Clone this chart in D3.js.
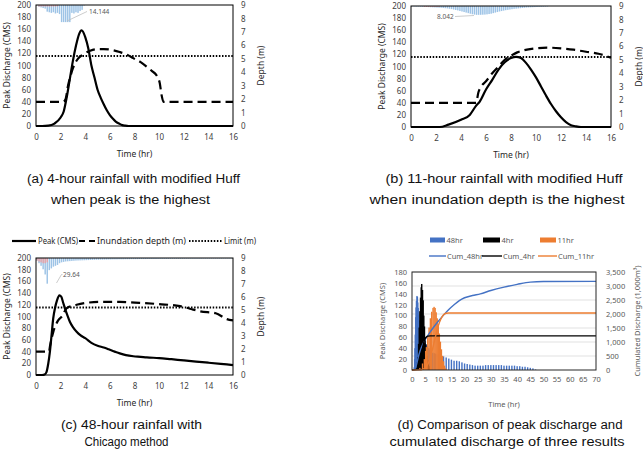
<!DOCTYPE html>
<html>
<head>
<meta charset="utf-8">
<script src="https://cdn.jsdelivr.net/npm/d3@7"></script>
<style>
  body { margin: 0; background: #fff; }
  svg { display: block; }
</style>
</head>
<body>
<svg id="fig" width="643" height="455"></svg>
<script>
// ---- data ----
const hourTicks = [0, 2, 4, 6, 8, 10, 12, 14, 16];
const dischargeTicks = [0, 20, 40, 60, 80, 100, 120, 140, 160, 180, 200];
const depthTicks = [0, 1, 2, 3, 4, 5, 6, 7, 8, 9];
const hourTicksD = [0, 5, 10, 15, 20, 25, 30, 35, 40, 45, 50, 55, 60, 65, 70];
const dischargeTicksD = [0, 20, 40, 60, 80, 100, 120, 140, 160, 180];
const cumTicks = [0, 500, 1000, 1500, 2000, 2500, 3000, 3500];

const limitDepth = 5.2;
const rainStep = 1 / 6; // 10-minute rainfall bars (hr)

// (a) 4-hour rainfall, modified Huff
const peak4hr = [[0,0],[0.5,0],[1,0.5],[1.5,4],[2,14],[2.25,24],[2.5,48],[2.75,78],[3,108],[3.25,133],[3.5,152],[3.7,158],[4,147],[4.25,128],[4.5,100],[4.75,80],[5,60],[5.25,47],[5.5,36],[5.75,26],[6,18],[6.25,12],[6.5,7],[6.75,4],[7,1.5],[7.25,0.5],[7.5,0],[16,0]];
const depth4hr = [[0,1.8],[2.2,1.8],[2.4,2.0],[2.6,3.0],[2.8,3.7],[3.0,4.3],[3.4,5.0],[3.8,5.3],[4.4,5.6],[5.0,5.72],[5.5,5.72],[6.2,5.65],[6.8,5.5],[7.4,5.3],[7.9,5.05],[8.5,4.75],[9.0,4.4],[9.4,4.1],[9.8,3.75],[10.05,3.2],[10.2,2.3],[10.35,1.8],[16,1.8]];
const rain4hr = [0.2,1.5,2.0,2.5,3.0,5.5,6.0,6.5,6.0,7.0,6.5,7.5,14.144,14.144,14.144,14.144,14.144,6.5,7.0,6.0,6.5,5.0,4.0,0.5];
const loss4hr = [0,1.2,1.2,1.2,1.2,1.2,1.2,1.2,1.2,1.2,1.0];

// (b) 11-hour rainfall, modified Huff
const peak11hr = [[0,0],[2,0],[2.3,0],[3,4],[4,12],[4.7,20],[5.2,35],[5.5,42],[6,62],[6.5,78],[7,95],[7.5,107],[8,114],[8.4,116],[8.8,114],[9.2,106],[9.6,95],[10,82],[10.4,67],[10.8,52],[11.2,38],[11.6,26],[12,16],[12.4,8],[12.8,3],[13.2,1],[13.6,0],[16,0]];
const depth11hr = [[0,1.8],[5.2,1.8],[5.4,2.6],[5.6,3.0],[6.0,3.4],[6.5,4.0],[7.0,4.5],[7.5,5.0],[8.0,5.3],[8.5,5.55],[9,5.7],[10,5.85],[11,5.9],[12,5.85],[13,5.75],[14,5.6],[15,5.45],[16,5.15]];
const rain11hr = [0.3,0.4,0.5,0.5,0.6,0.7, 0.8,0.9,1.0,1.1,1.2,1.3, 1.4,1.5,1.6,1.8,2.0,2.2, 2.5,2.8,3.2,3.6,4.0,4.5,
  5.0,5.5,6.0,6.5,7.0,7.5, 7.8,8.042,8.042,8.0,7.9,7.8, 7.6,7.3,7.0,6.5,6.0,5.5, 5.0,4.6,4.2,3.8,3.5,3.2,
  2.9,2.6,2.4,2.2,2.0,1.8, 1.6,1.4,1.3,1.2,1.1,1.0, 0.9,0.8,0.7,0.6,0.5,0.4];
const loss11hr = [0,0,0,0,0,0,0.8,0.8,0.8,0.8,0.8,0.8,0.8,0.8];

// (c) 48-hour rainfall, Chicago method
const peak48hr = [[0,0],[0.5,0],[0.7,1],[0.85,5],[1,20],[1.13,40],[1.25,65],[1.4,97],[1.55,115],[1.7,127],[1.9,136],[2.05,134],[2.2,124],[2.35,114],[2.55,102],[2.75,91],[3,82],[3.3,74],[3.6,68],[4,63],[4.5,55],[5,50],[5.5,47],[5.9,44],[6.4,40],[6.8,37],[7.3,34],[7.9,32],[8.5,31],[9,30],[10,29],[11,27],[12,25],[13,23],[14,21],[15,19],[16,17],[17,17],[18,16],[19,14],[20,12],[21,11],[22,10],[23,9],[24,8],[25,8],[26,8],[27,8],[28,9],[29,9],[30,9],[31,9],[32,9],[33,9],[34,9],[35,8],[36,8],[37,8],[38,8],[39,8],[40,7],[41,7],[42,6],[43,6],[44,5],[45,4],[46,3],[47,1],[48,0]];
const depth48hr = [[0,1.8],[1.05,1.8],[1.15,2.3],[1.4,3.3],[1.8,4.2],[2.1,4.5],[2.5,5.15],[3.3,5.4],[4.1,5.55],[5.2,5.62],[6.8,5.62],[8.4,5.55],[10,5.45],[11.7,5.3],[12.5,5.1],[13.3,4.9],[14.6,4.75],[15.5,4.3],[16,4.2]];
const rain48hr = [3,6,9,13,19,29.64,14,12,10,9,8,6,
  5,4.5,4,3.8,3.6,3.4,3.2,3.0,2.9,2.8,2.7,2.6,
  2.5,2.4,2.3,2.2,2.1,2.0,2.0,1.9,1.9,1.8,1.8,1.7,
  1.7,1.6,1.6,1.6,1.5,1.5,1.5,1.4,1.4,1.4,1.3,1.3,
  1.3,1.3,1.2,1.2,1.2,1.2,1.1,1.1,1.1,1.1,1.1,1.0,
  1.0,1.0,1.0,1.0,1.0,0.9,0.9,0.9,0.9,0.9,0.9,0.9,
  0.8,0.8,0.8,0.8,0.8,0.8,0.8,0.8,0.8,0.7,0.7,0.7,
  0.7,0.7,0.7,0.7,0.7,0.7,0.7,0.6,0.6,0.6,0.6,0.6];
const loss48hr = [3,4,5,6,6,5];

// (d) cumulated discharge (1,000 m3)
const cum48hr = [[0,0],[1,20],[1.5,120],[2,300],[2.5,500],[3,660],[4,900],[5,1080],[6,1230],[7,1370],[8,1500],[10,1740],[12,1960],[14,2160],[16,2330],[18,2480],[20,2580],[23,2660],[26,2720],[30,2840],[35,2960],[40,3060],[45,3140],[50,3160],[70,3165]];
const cum4hr = [[0,0],[2,20],[2.5,80],[3,210],[3.5,470],[4,760],[4.5,990],[5,1120],[5.5,1180],[6,1210],[7,1220],[70,1220]];
const cum11hr = [[0,0],[3,5],[4,25],[5,70],[6,200],[7,450],[8,820],[9,1220],[10,1580],[11,1820],[12,1970],[13,2025],[14,2035],[70,2035]];

const legendC = ['Peak (CMS)', 'Inundation depth (m)', 'Limit (m)'];
const legendD1 = ['48hr', '4hr', '11hr'];
const legendD2 = ['Cum_48hr', 'Cum_4hr', 'Cum_11hr'];

// ---- drawing ----
const svg = d3.select('#fig');
const FONT = '"Noto Sans", "DejaVu Sans", sans-serif';
const CAP = '"Liberation Sans Narrow", "Liberation Sans", Arial, sans-serif';
const blue = '#4472c4', orange = '#ed7d31';

function frame(box, o) {
  const g = svg.append('g');
  const x = d3.scaleLinear().domain(o.xDomain).range([box.left, box.right]);
  const y = d3.scaleLinear().domain(o.yDomain).range([box.bottom, box.top]);
  const y2 = d3.scaleLinear().domain(o.y2Domain).range([box.bottom, box.top]);

  if (o.grid) {
    g.selectAll('line.grid').data(o.y2Ticks.slice(1)).enter().append('line')
      .attr('x1', box.left).attr('x2', box.right)
      .attr('y1', d => y2(d)).attr('y2', d => y2(d))
      .attr('stroke', '#d9d9d9').attr('stroke-width', 0.8);
  }

  g.append('g').attr('transform', `translate(${box.left},0)`)
    .call(d3.axisLeft(y).tickValues(o.yTicks).tickSize(0).tickPadding(o.padL));
  g.append('g').attr('transform', `translate(${box.right},0)`)
    .call(d3.axisRight(y2).tickValues(o.y2Ticks).tickSize(0).tickPadding(o.padR).tickFormat(o.y2Fmt || d3.format('d')));
  g.append('g').attr('transform', `translate(0,${box.bottom})`)
    .call(d3.axisBottom(x).tickValues(o.xTicks).tickSize(0).tickPadding(o.padB));
  g.selectAll('.domain').remove();
  g.selectAll('.tick text').attr('font-size', o.fs).attr('font-family', FONT).attr('fill', o.tc);

  g.append('text').attr('transform', `translate(${o.titleL},${(box.top + box.bottom) / 2}) rotate(-90)`)
    .attr('text-anchor', 'middle').attr('dy', '0.35em')
    .attr('font-size', o.tfs).attr('font-family', FONT).attr('fill', o.tc2)
    .text('Peak Discharge (CMS)');
  g.append('text').attr('transform', `translate(${o.titleR},${(box.top + box.bottom) / 2}) rotate(-90)`)
    .attr('text-anchor', 'middle').attr('dy', '0.35em')
    .attr('font-size', o.tfs).attr('font-family', FONT).attr('fill', o.tc2)
    .text(o.rightTitle);
  g.append('text').attr('x', (box.left + box.right) / 2).attr('y', o.titleB)
    .attr('text-anchor', 'middle').attr('dy', '0.35em')
    .attr('font-size', o.tfs).attr('font-family', FONT).attr('fill', o.tc2)
    .text('Time (hr)');

  return { g, x, y, y2 };
}

function box(g, b, color) {
  g.append('rect').attr('x', b.left).attr('y', b.top)
    .attr('width', b.right - b.left).attr('height', b.bottom - b.top)
    .attr('fill', 'none').attr('stroke', color).attr('stroke-width', 1);
}

function rainBars(p, b, rain, loss, rainMax, label) {
  const r = d3.scaleLinear().domain([0, rainMax]).range([0, b.bottom - b.top]);
  const w = p.x(rainStep) - p.x(0);
  p.g.append('g').selectAll('rect').data(rain).enter().append('rect')
    .attr('x', (d, i) => p.x(i * rainStep) + 0.25)
    .attr('y', b.top)
    .attr('width', Math.max(w - 0.6, 0.6))
    .attr('height', d => r(d))
    .attr('fill', '#9dc3e6');
  p.g.append('g').selectAll('rect').data(loss).enter().append('rect')
    .attr('x', (d, i) => p.x(i * rainStep) + 0.25)
    .attr('y', b.top)
    .attr('width', Math.max(w - 0.6, 0.6))
    .attr('height', d => r(d))
    .attr('fill', '#f19c9c').attr('opacity', 0.85);
  p.g.append('path')
    .attr('d', d3.line()(label.leader))
    .attr('fill', 'none').attr('stroke', '#bfbfbf').attr('stroke-width', 0.8);
  p.g.append('text').attr('x', label.at[0]).attr('y', label.at[1])
    .attr('dy', '0.35em').attr('font-size', 6.5).attr('font-family', FONT).attr('fill', '#595959')
    .text(label.text);
}

function hydroPanel(b, peak, depth, rain, loss, rainMax, label) {
  const p = frame(b, {
    xDomain: [0, 16], yDomain: [0, 200], y2Domain: [0, 9],
    xTicks: hourTicks, yTicks: dischargeTicks, y2Ticks: depthTicks,
    padL: 5, padR: 8, padB: 8, fs: 8, tc: '#404040', tc2: '#262626', tfs: 8.5,
    titleL: b.left - 29, titleR: b.right + 28, titleB: b.bottom + 28,
    rightTitle: 'Depth (m)'
  });
  rainBars(p, b, rain, loss, rainMax, label);

  const line = d3.line().curve(d3.curveMonotoneX);
  p.g.append('line')
    .attr('x1', b.left).attr('x2', b.right)
    .attr('y1', p.y2(limitDepth)).attr('y2', p.y2(limitDepth))
    .attr('stroke', '#000').attr('stroke-width', 2).attr('stroke-dasharray', '1.5,1.6');
  p.g.append('path')
    .attr('d', line.x(d => p.x(d[0])).y(d => p.y2(d[1]))(depth))
    .attr('fill', 'none').attr('stroke', '#000').attr('stroke-width', 2.2).attr('stroke-dasharray', '9,5');
  p.g.append('path')
    .attr('d', line.x(d => p.x(d[0])).y(d => p.y(d[1]))(peak.filter(d => d[0] <= 16)))
    .attr('fill', 'none').attr('stroke', '#000').attr('stroke-width', 2.2);
  box(p.g, b, '#000');
  return p;
}

const boxA = { left: 36, right: 233, top: 5, bottom: 126 };
const boxB = { left: 411, right: 611, top: 6, bottom: 127 };
const boxC = { left: 36, right: 233, top: 258, bottom: 375 };
const boxD = { left: 412, right: 596, top: 272, bottom: 370 };

hydroPanel(boxA, peak4hr, depth4hr, rain4hr, loss4hr, 100,
  { text: '14.144', at: [89, 11.5], leader: [[67, 21], [87, 11.5]] });
hydroPanel(boxB, peak11hr, depth11hr, rain11hr, loss11hr, 110,
  { text: '8.042', at: [437, 16.5], leader: [[455, 16.5], [474, 15.5]] });
hydroPanel(boxC, peak48hr, depth48hr, rain48hr, loss48hr, 135,
  { text: '29.64', at: [63, 274.5], leader: [[56.5, 283], [61.5, 274.5], [62.5, 274.5]] });

// legend for (c)
const lg = svg.append('g').attr('font-family', FONT).attr('font-size', 8.2).attr('fill', '#262626');
const legendItems = [
  { x1: 12, x2: 36, dash: null, w: 2.2, tw: 40 },
  { x1: 79, x2: 95, dash: '6,4', w: 2.2, tw: 89 },
  { x1: 189, x2: 222, dash: '1.5,1.6', w: 2, tw: 32 }
];
legendItems.forEach((it, i) => {
  lg.append('line').attr('x1', it.x1).attr('x2', it.x2).attr('y1', 241).attr('y2', 241)
    .attr('stroke', '#000').attr('stroke-width', it.w).attr('stroke-dasharray', it.dash);
  lg.append('text').attr('x', it.x2 + 2).attr('y', 241).attr('dy', '0.35em')
    .attr('textLength', it.tw).attr('lengthAdjust', 'spacingAndGlyphs')
    .text(legendC[i]);
});

// (d) comparison panel
const pD = frame(boxD, {
  xDomain: [0, 70], yDomain: [0, 180], y2Domain: [0, 3500],
  xTicks: hourTicksD, yTicks: dischargeTicksD, y2Ticks: cumTicks, grid: true,
  padL: 5, padR: 10, padB: 7, fs: 7.5, tc: '#595959', tc2: '#595959', tfs: 7.5,
  titleL: 382, titleR: 637, titleB: 404, y2Fmt: d3.format(','),
  rightTitle: 'Cumulated Discharge (1,000m³)'
});
[[peak48hr, blue], [peak4hr, '#000'], [peak11hr, orange]].forEach(([s, c]) => {
  pD.g.append('g').selectAll('rect').data(s.filter(d => d[1] > 0)).enter().append('rect')
    .attr('x', d => pD.x(d[0]) - 0.7).attr('width', 1.4)
    .attr('y', d => pD.y(d[1])).attr('height', d => boxD.bottom - pD.y(d[1]))
    .attr('fill', c);
});
const cumLine = d3.line().x(d => pD.x(d[0])).y(d => pD.y2(d[1])).curve(d3.curveMonotoneX);
[[cum48hr, blue], [cum4hr, '#000'], [cum11hr, orange]].forEach(([s, c]) => {
  pD.g.append('path').attr('d', cumLine(s)).attr('fill', 'none')
    .attr('stroke', c).attr('stroke-width', 1.4);
});
box(pD.g, boxD, '#262626');

// legend for (d)
const ld = svg.append('g').attr('font-family', FONT).attr('font-size', 7.5).attr('fill', '#595959');
const legColors = [blue, '#000', orange];
[[430, 445], [483, 500], [540, 556]].forEach(([a, b], i) => {
  ld.append('rect').attr('x', a).attr('y', 237.5).attr('width', b - a).attr('height', 5).attr('fill', legColors[i]);
  ld.append('text').attr('x', b + 1.5).attr('y', 240).attr('dy', '0.35em').text(legendD1[i]);
});
[[429, 446], [482, 502], [538, 557]].forEach(([a, b], i) => {
  ld.append('line').attr('x1', a).attr('x2', b).attr('y1', 256).attr('y2', 256)
    .attr('stroke', legColors[i]).attr('stroke-width', 1.4);
  ld.append('text').attr('x', b + 1).attr('y', 256).attr('dy', '0.35em').text(legendD2[i]);
});

// captions
const captions = [
  { t: '(a) 4-hour rainfall with modified Huff', cx: 133.5, y: 179, w: 213 },
  { t: 'when peak is the highest', cx: 130.5, y: 200, w: 159 },
  { t: '(b) 11-hour rainfall with modified Huff', cx: 504, y: 179, w: 237 },
  { t: 'when inundation depth is the highest', cx: 497, y: 200, w: 255 },
  { t: '(c) 48-hour rainfall with', cx: 131.5, y: 425, w: 141 },
  { t: 'Chicago method', cx: 126.5, y: 442, w: 84 },
  { t: '(d) Comparison of peak discharge and', cx: 510, y: 425, w: 225 },
  { t: 'cumulated discharge of three results', cx: 507, y: 442, w: 235 }
];
svg.append('g').selectAll('text').data(captions).enter().append('text')
  .attr('x', d => d.cx - d.w / 2).attr('y', d => d.y).attr('dy', '0.35em')
  .attr('textLength', d => d.w).attr('lengthAdjust', 'spacingAndGlyphs')
  .attr('font-family', CAP).attr('font-size', 12.5).attr('fill', '#111')
  .text(d => d.t);
</script>
</body>
</html>
